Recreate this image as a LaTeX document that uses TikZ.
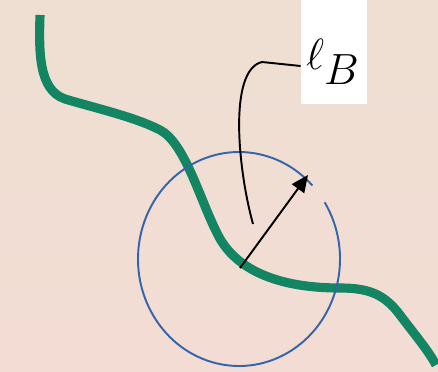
\documentclass[tikz,border=0pt]{standalone}
\usepackage{tikz}
\usepackage{amsmath}
\usetikzlibrary{arrows.meta, positioning, calc}
\definecolor{bgtop}{RGB}{238, 223, 210}
\definecolor{bgbottom}{RGB}{243, 220, 212}
\definecolor{pathgreen}{RGB}{19, 133, 99}
\definecolor{ballblue}{RGB}{52, 100, 170}

\begin{document}
\begin{tikzpicture}[
  x=0.02cm, y=-0.02cm,
  every node/.style={inner sep=0pt},
  worldline/.style={pathgreen, line width=5.2pt},
  ball/.style={ballblue, line width=1.1pt},
  radius arrow/.style={-{Triangle[length=3.4mm, width=3mm]}, line width=1.1pt},
  pointer/.style={line width=1.1pt},
  labelbox/.style={fill=white, minimum width=1.32cm, minimum height=2.1cm}
]

% Background
\shade[top color=bgtop, bottom color=bgbottom] (0,0) rectangle (438,371);
\useasboundingbox (0,0) rectangle (438,371);

% Green path
\draw[worldline] (40,15) .. controls (39,50) and (38,90) .. (65,99)
  .. controls (95,108) and (135,117) .. (160,130)
  .. controls (185,143) and (200,200) .. (217,233)
  .. controls (232,265) and (270,288) .. (340,288)
  .. controls (370,288) and (385,295) .. (400,315)
  .. controls (415,335) and (428,350) .. (436,365);

% Ball around the centre
\coordinate (centre) at (239,259);
\draw[ball] ($(centre)+(-32:101 and 107)$) arc[start angle=-32, end angle=316.6, x radius=101, y radius=107];

% Radius
\coordinate (origin) at (240,268);
\coordinate (tip) at (308,175);
\draw[radius arrow] (origin) -- (tip);

% Label
\node[labelbox] (lab) at (334,52) {};
\node[font=\fontsize{36}{40}\selectfont] (ellB) at (333,62) {$\ell_B$};
\coordinate (hook) at (253,224);
\draw[pointer] (hook) .. controls (238,170) and (228,70) .. (262,62) -- (lab.west |- 0,66);

\end{tikzpicture}
\end{document}
